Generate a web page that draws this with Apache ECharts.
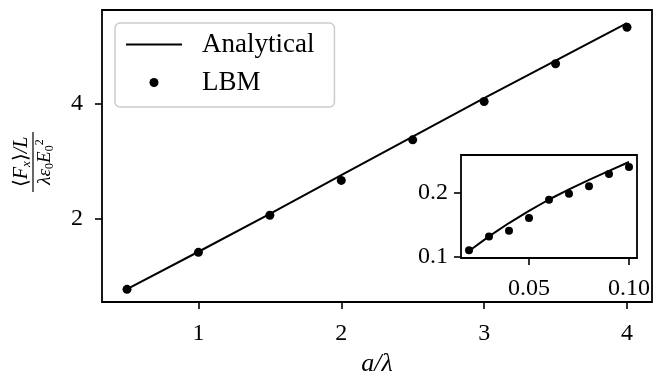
<!DOCTYPE html>
<html><head><meta charset="utf-8">
<script src="https://cdn.jsdelivr.net/npm/echarts@6/dist/echarts.min.js"></script>
<style>html,body{margin:0;padding:0;background:#fff}#c{width:659px;height:383px}</style>
</head><body><div id="c"></div>
<script>
// ---- data ----
const xTicks = [1, 2, 3, 4];
const yTicks = [2, 4];
const aOverLambda = [0.5, 1, 1.5, 2, 2.5, 3, 3.5, 4];
const analytical = [0.78, 1.43, 2.09, 2.76, 3.43, 4.10, 4.75, 5.40];
const lbm = [0.777, 1.42, 2.064, 2.67, 3.374, 4.04, 4.696, 5.33];
const insetX = [0.02, 0.03, 0.04, 0.05, 0.06, 0.07, 0.08, 0.09, 0.10];
const insetAnalytical = [0.109, 0.132, 0.153, 0.172, 0.190, 0.206, 0.221, 0.235, 0.249];
const insetLbm = [0.110, 0.132, 0.141, 0.161, 0.1895, 0.199, 0.211, 0.230, 0.241];
const insetXTicks = [0.05, 0.10];
const insetYTicks = [0.1, 0.2];

const FONT = 'Liberation Serif';
const zip = (xs, ys) => xs.map((x, i) => [x, ys[i]]);

const axisCommon = {
  type: 'value',
  splitLine: { show: false },
  axisLine: { show: false },
  axisTick: { show: true, inside: false, length: 7, lineStyle: { color: '#000', width: 1.6 } },
  axisLabel: { color: '#000', fontFamily: FONT, fontSize: 24 }
};

const chart = echarts.init(document.getElementById('c'), null, { renderer: 'canvas' });
chart.setOption({
  animation: false,
  backgroundColor: '#fff',
  grid: [
    { left: 102, top: 10, width: 550, height: 292, outerBoundsMode: 'none', containLabel: false, show: true, borderColor: '#000', borderWidth: 1.8, backgroundColor: 'transparent' },
    { left: 461, top: 155, width: 176, height: 103, outerBoundsMode: 'none', containLabel: false, show: true, borderColor: '#000', borderWidth: 1.8, backgroundColor: '#fff', z: 5 }
  ],
  xAxis: [
    Object.assign({}, axisCommon, {
      gridIndex: 0, min: 0.325, max: 4.175,
      axisTick: Object.assign({}, axisCommon.axisTick, { customValues: xTicks }),
      axisLabel: Object.assign({}, axisCommon.axisLabel, { customValues: xTicks, margin: 20 }),
      name: 'a/λ', nameLocation: 'middle', nameGap: 49,
      nameTextStyle: { color: '#000', fontFamily: FONT, fontSize: 26, fontStyle: 'italic' }
    }),
    Object.assign({}, axisCommon, {
      gridIndex: 1, min: 0.016, max: 0.104, z: 6,
      axisTick: Object.assign({}, axisCommon.axisTick, { customValues: insetXTicks }),
      axisLabel: Object.assign({}, axisCommon.axisLabel, { customValues: insetXTicks, margin: 19, formatter: v => v.toFixed(2) })
    })
  ],
  yAxis: [
    Object.assign({}, axisCommon, {
      gridIndex: 0, min: 0.557, max: 5.63,
      axisTick: Object.assign({}, axisCommon.axisTick, { customValues: yTicks }),
      axisLabel: Object.assign({}, axisCommon.axisLabel, { customValues: yTicks, margin: 19 })
    }),
    Object.assign({}, axisCommon, {
      gridIndex: 1, min: 0.098, max: 0.26, z: 6,
      axisTick: Object.assign({}, axisCommon.axisTick, { customValues: insetYTicks }),
      axisLabel: Object.assign({}, axisCommon.axisLabel, { customValues: insetYTicks, margin: 13, formatter: v => v.toFixed(1) })
    })
  ],
  legend: {
    orient: 'vertical', left: 115, top: 23,
    data: [{ name: 'Analytical', icon: 'path://M0 0 H56 V2 H0 Z' }, { name: 'LBM', icon: 'circle' }],
    itemWidth: 56, itemHeight: 9, itemGap: 11,
    padding: [8, 20, 11, 11],
    backgroundColor: 'rgba(255,255,255,0.8)',
    borderColor: '#cccccc', borderWidth: 1.5, borderRadius: 5,
    textStyle: { color: '#000', fontFamily: FONT, fontSize: 27, padding: [0, 0, 0, 15] }
  },
  series: [
    { name: 'Analytical', type: 'line', xAxisIndex: 0, yAxisIndex: 0, data: zip(aOverLambda, analytical),
      symbol: 'none', showSymbol: false, lineStyle: { color: '#000', width: 2 }, itemStyle: { color: '#000' }, z: 3 },
    { name: 'LBM', type: 'scatter', xAxisIndex: 0, yAxisIndex: 0, data: zip(aOverLambda, lbm),
      symbol: 'circle', symbolSize: 9, itemStyle: { color: '#000', opacity: 1 }, z: 4 },
    { name: 'Analytical (inset)', type: 'line', xAxisIndex: 1, yAxisIndex: 1, data: zip(insetX, insetAnalytical),
      symbol: 'none', showSymbol: false, lineStyle: { color: '#000', width: 2 }, z: 7 },
    { name: 'LBM (inset)', type: 'scatter', xAxisIndex: 1, yAxisIndex: 1, data: zip(insetX, insetLbm),
      symbol: 'circle', symbolSize: 8, itemStyle: { color: '#000', opacity: 1 }, z: 8 }
  ],
  graphic: [{
    type: 'group', x: 33, y: 162, rotation: Math.PI / 2,
    children: [
      { type: 'text', x: 0, y: -11, style: {
          text: '{n|⟨}{i|F}{s|x}{n|⟩}{i|/L}', align: 'center', verticalAlign: 'middle',
          rich: {
            n: { fill: '#000', fontFamily: FONT, fontSize: 20, lineHeight: 22, verticalAlign: 'middle' },
            i: { fill: '#000', fontFamily: FONT, fontSize: 20, fontStyle: 'italic', lineHeight: 22, verticalAlign: 'middle' },
            s: { fill: '#000', fontFamily: FONT, fontSize: 13, fontStyle: 'italic', lineHeight: 22, verticalAlign: 'bottom' }
          } } },
      { type: 'line', shape: { x1: -30, y1: 0, x2: 30, y2: 0 }, style: { stroke: '#000', lineWidth: 1.2 } },
      { type: 'text', x: 0, y: 12, style: {
          text: '{i|λε}{s|0}{i|E}{s|0}{p|2}', align: 'center', verticalAlign: 'middle',
          rich: {
            i: { fill: '#000', fontFamily: FONT, fontSize: 19, fontStyle: 'italic', lineHeight: 22, verticalAlign: 'middle' },
            s: { fill: '#000', fontFamily: FONT, fontSize: 12, lineHeight: 22, verticalAlign: 'bottom' },
            p: { fill: '#000', fontFamily: FONT, fontSize: 12, lineHeight: 22, verticalAlign: 'top' }
          } } }
    ]
  }]
});
</script>
</body></html>
